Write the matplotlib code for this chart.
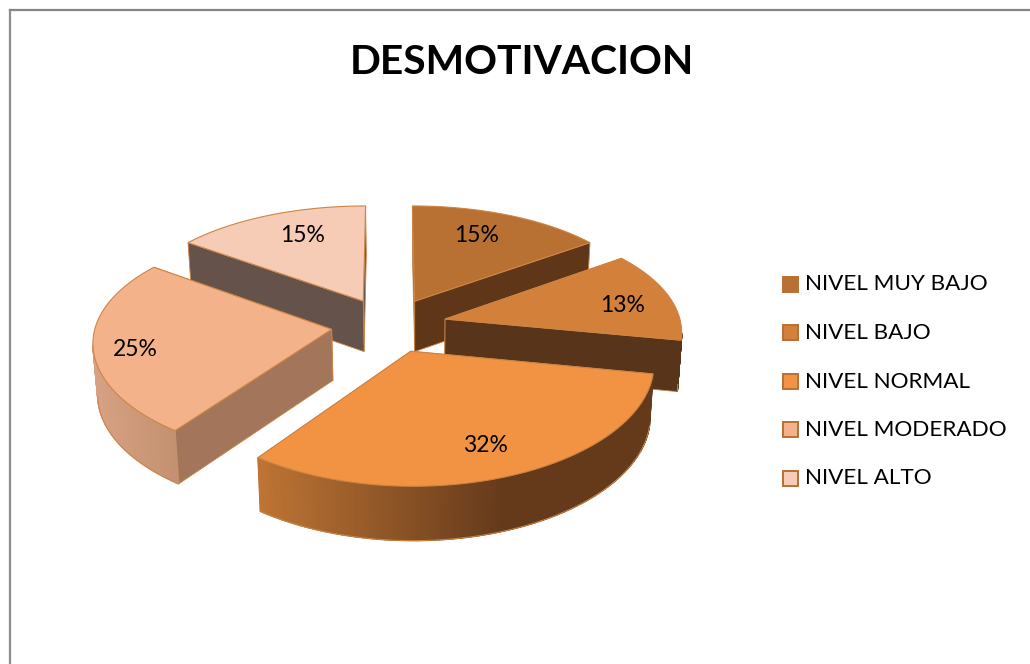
import matplotlib
matplotlib.use('Agg')
import matplotlib.pyplot as plt
from matplotlib.colors import to_rgb
from matplotlib.patches import Polygon, Rectangle
import numpy as np

plt.rcParams['font.family'] = ['Lato', 'DejaVu Sans']

# Chart data
title = 'DESMOTIVACION'
categories = ['NIVEL MUY BAJO', 'NIVEL BAJO', 'NIVEL NORMAL', 'NIVEL MODERADO', 'NIVEL ALTO']
values = [15, 13, 32, 25, 15]
top_colors = ['#B87033', '#D3803B', '#F29343', '#F4B28B', '#F7CCB6']
inner_colors = ['#5F3718', '#57341A', '#653A1B', '#A3755A', '#65524A']
# outer wall colour at the left and right ends of each slice
wall_left = ['#5F3718', '#57341A', '#BE7434', '#D6A283', '#65524A']
wall_right = ['#5F3718', '#57341A', '#653A1B', '#C39070', '#65524A']
edge_color = '#CC8545'

# Projection settings, in image pixels
cx, cy = 389, 325
rx, ry = 236, 112
persp_x = 0.10
persp_y = 0.12
explode = 0.245
depth = 51
vanish_x = 415


def project(X, Y):
    return cx + rx * X / (1 + persp_x * Y), cy - ry * Y / (1 + persp_y * Y)


def drop(x, y, Y):
    # the bottom rim sits a little lower in front and leans toward the middle
    return vanish_x + (x - vanish_x) * 0.985, y + depth / (1 + 0.05 * Y)


def draw_slice(ax, i, a0, a1):
    mid = (a0 + a1) / 2
    off_x, off_y = explode * np.sin(mid), explode * np.cos(mid)
    apex_x, apex_y = project(off_x, off_y)
    apex_bx, apex_by = drop(apex_x, apex_y, off_y)

    th = np.linspace(a0, a1, 120)
    X = np.sin(th) + off_x
    Y = np.cos(th) + off_y
    px, py = project(X, Y)
    bx, by = drop(px, py, Y)

    # flat cut faces, the one further back first
    ends = [0, -1] if py[0] < py[-1] else [-1, 0]
    for k in ends:
        quad = [(apex_x, apex_y), (px[k], py[k]), (bx[k], by[k]), (apex_bx, apex_by)]
        ax.add_patch(Polygon(quad, closed=True, facecolor=inner_colors[i], edgecolor=edge_color, lw=0.6))

    # curved outer wall, only the part whose normal faces the camera
    rgb_l = np.array(to_rgb(wall_left[i]))
    rgb_r = np.array(to_rgb(wall_right[i]))
    facing = -np.sin(th) * X + np.cos(th) * (-1 / persp_x - Y)
    idx = np.where(facing > 0)[0]
    if len(idx) > 1:
        xmin, xmax = px[idx].min(), px[idx].max()
        for k in range(idx[0], idx[-1]):
            frac = (0.5 * (px[k] + px[k + 1]) - xmin) / max(xmax - xmin, 1)
            frac = min(frac / 0.62, 1) if i == 2 else frac
            col = rgb_l + (rgb_r - rgb_l) * frac
            quad = [(px[k], py[k]), (px[k + 1], py[k + 1]), (bx[k + 1], by[k + 1]), (bx[k], by[k])]
            ax.add_patch(Polygon(quad, closed=True, facecolor=col, edgecolor=col, lw=1.0))
        ax.plot(bx[idx], by[idx], color=edge_color, lw=0.7)

    # top face
    pts = [(apex_x, apex_y)] + list(zip(px, py))
    ax.add_patch(Polygon(pts, closed=True, facecolor=top_colors[i], edgecolor=edge_color, lw=0.8))


fig = plt.figure(figsize=(10.30, 6.64), dpi=100)
ax = fig.add_axes([0, 0, 1, 1])
ax.set_xlim(0, 1030)
ax.set_ylim(664, 0)
ax.axis('off')

# chart frame, only top and left reach the image
ax.plot([9.5, 9.5], [664, 9.5], color='#8C8C8C', lw=1.6)
ax.plot([9.5, 1030], [9.5, 9.5], color='#868686', lw=1.6)

ax.text(522, 62, title, fontsize=29.3, fontweight='bold', ha='center', va='center', color='black')

# slice angles clockwise from the top
total = sum(values)
edges = np.cumsum([0] + values) / total * 2 * np.pi
for i in [4, 0, 1, 3, 2]:  # back to front
    draw_slice(ax, i, edges[i], edges[i + 1])

label_xy = [(477, 236), (623, 306), (485, 445), (135, 349), (303, 236)]
for i, v in enumerate(values):
    ax.text(label_xy[i][0], label_xy[i][1], f'{v}%', fontsize=16.5, ha='center', va='center', color='black')

# legend
for i, name in enumerate(categories):
    y = 284 + 48.5 * i
    ax.add_patch(Rectangle((783, y - 7.5), 15, 15, facecolor=top_colors[i], edgecolor='#B87033', lw=1.4))
    ax.text(805, y + 0.5, name, fontsize=16.2, ha='left', va='center', color='black')

fig.savefig('out.png', dpi=100)
